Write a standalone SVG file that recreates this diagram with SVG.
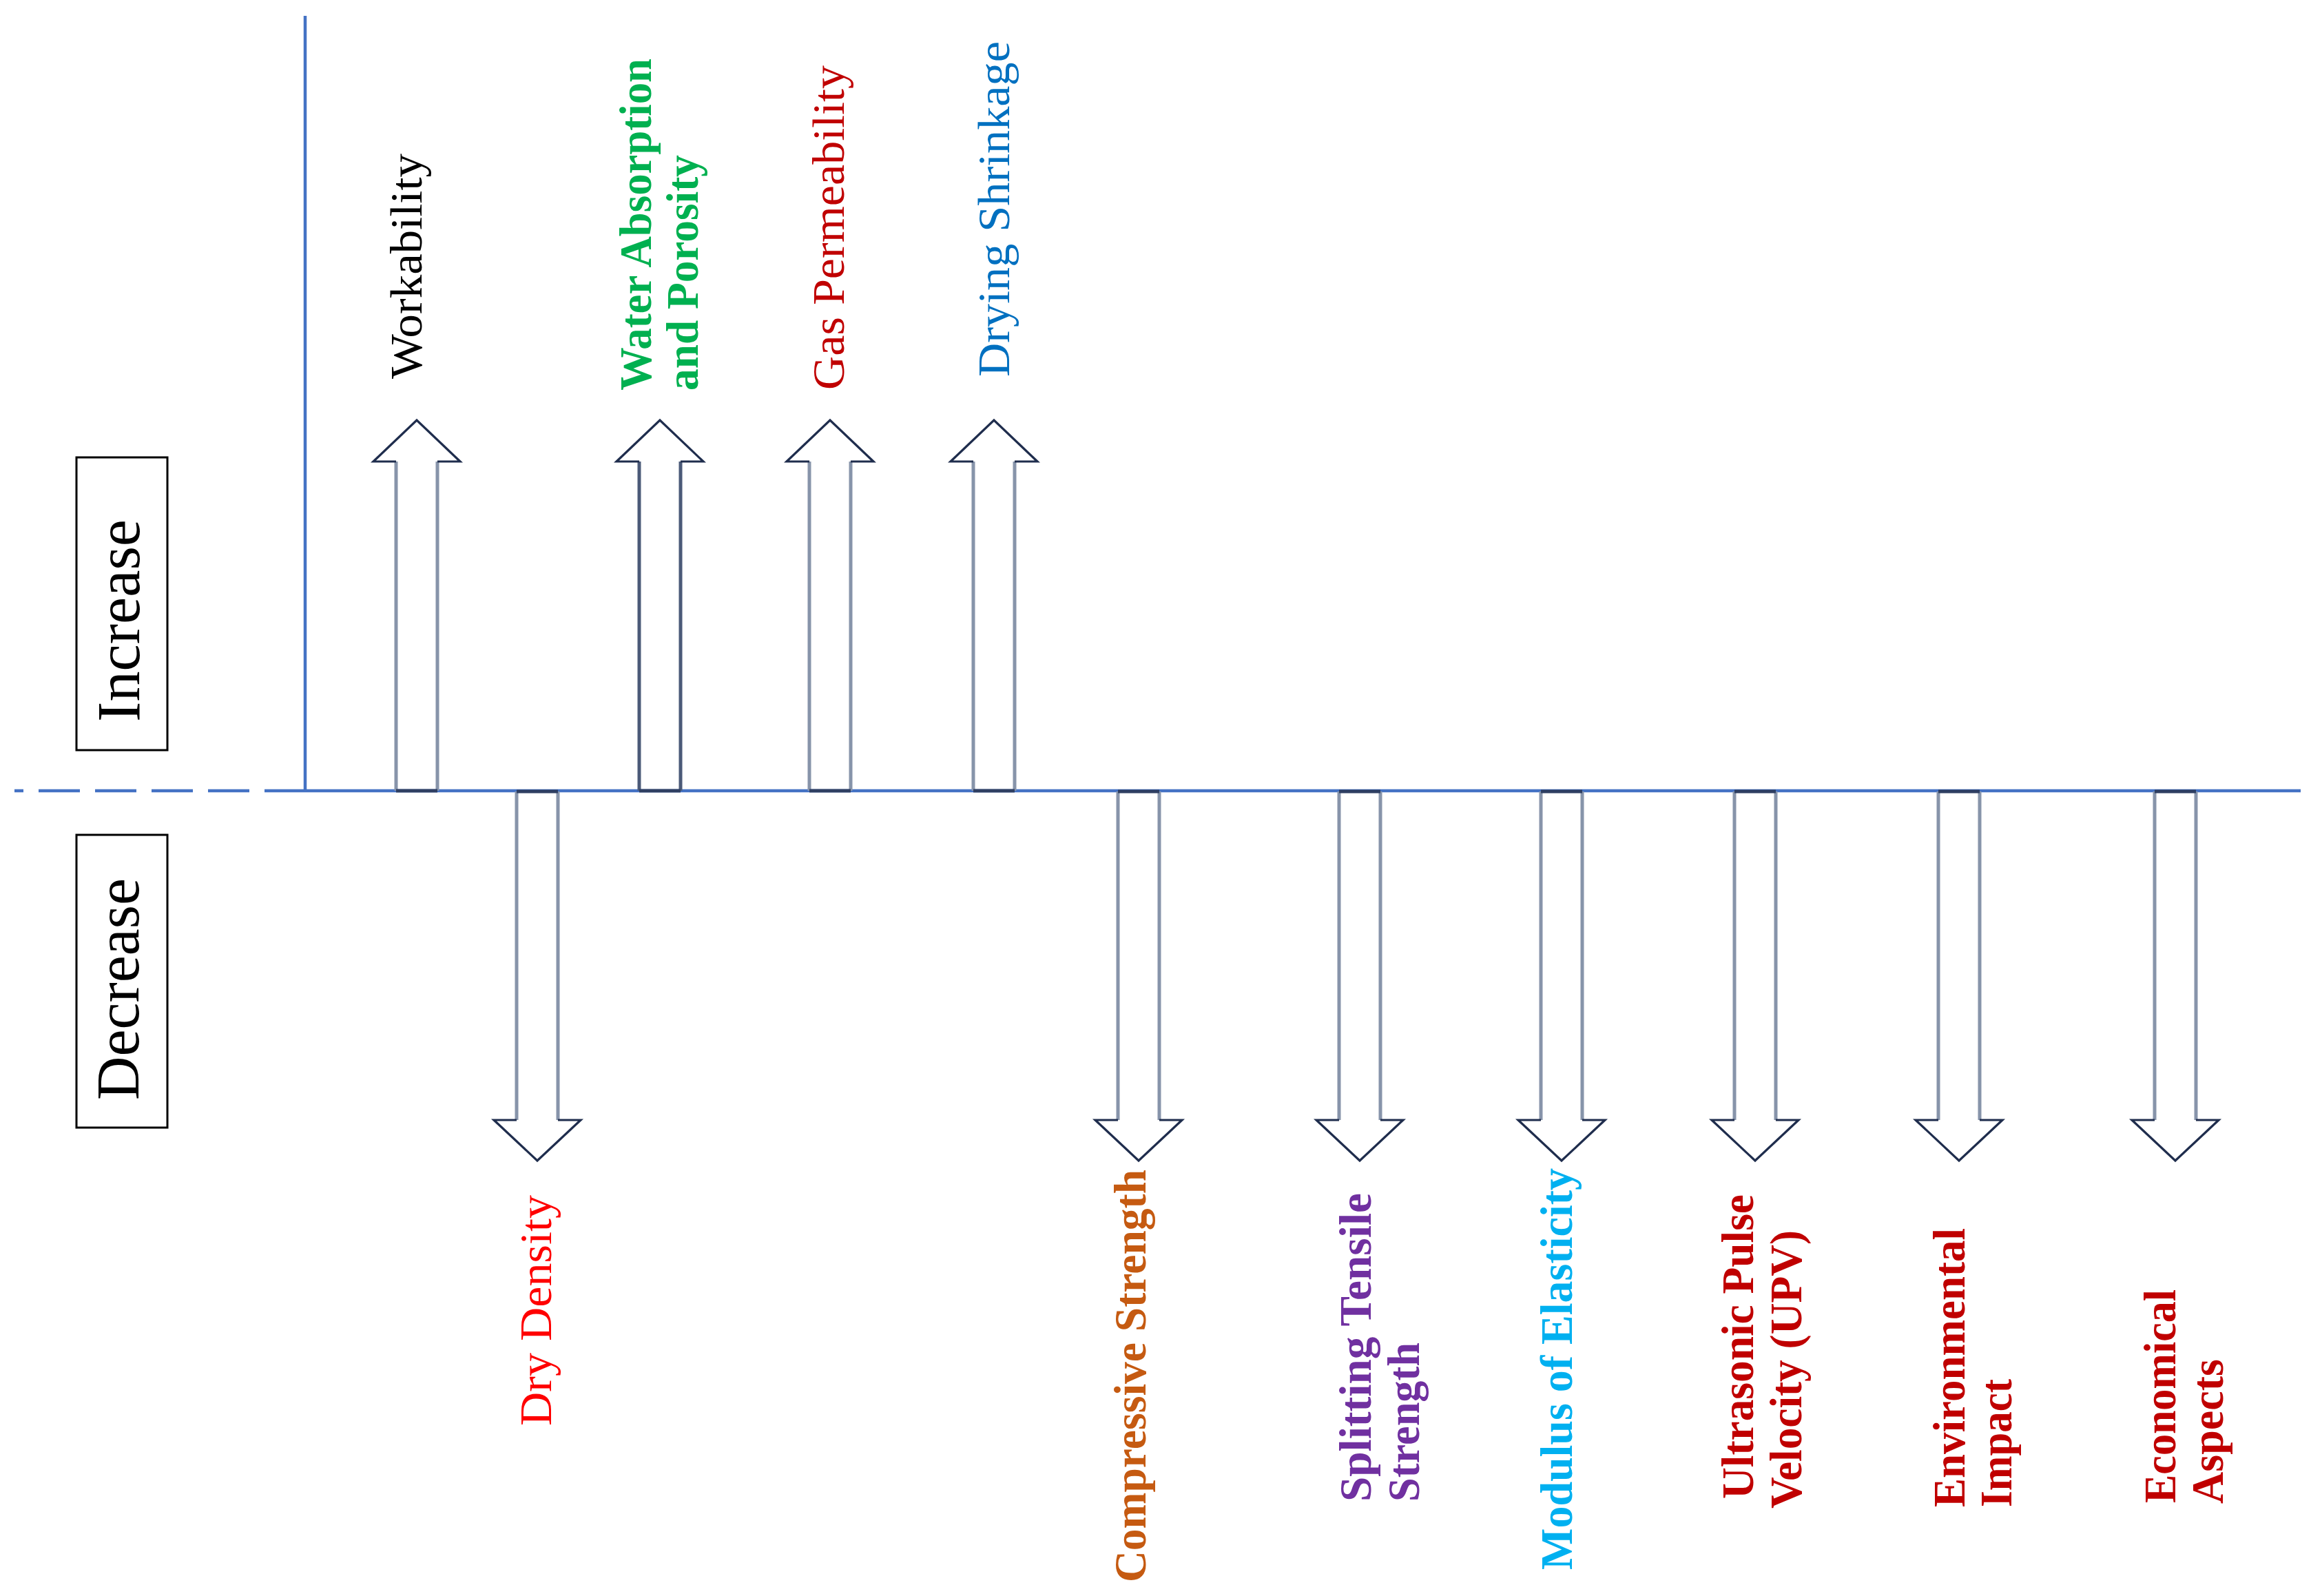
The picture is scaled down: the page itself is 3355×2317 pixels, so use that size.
<svg xmlns="http://www.w3.org/2000/svg" xmlns:xlink="http://www.w3.org/1999/xlink" width="3355" height="2317" viewBox="0 0 3355 2317">
<style>
.axis{stroke:#4472C4;stroke-width:4.5;fill:none}
.dash{stroke:#4472C4;stroke-width:4.5;fill:none;stroke-dasharray:60 22}
.shaft{stroke:#8794AA;stroke-width:5;fill:none}
.shaft-dark{stroke:#4B5A78;stroke-width:5;fill:none}
.head{stroke:#1F2D4D;stroke-width:3.2;fill:none;stroke-linejoin:miter}
.edge{stroke:#2F3F62;stroke-width:5;fill:none}
.box{fill:#fff;stroke:#000;stroke-width:3}
.lbl{font-family:"Liberation Serif","Times New Roman",serif;font-size:66px}
.big{font-family:"Liberation Serif","Times New Roman",serif;font-size:88px;fill:#000}
.b{font-weight:bold}
</style>
<defs>
<g id="up">
<path class="shaft" d="M-30 1148V670M30 1148V670"/>
<path class="head" d="M-30 670H-63L0 610L63 670H30"/>
<path class="edge" d="M-30 1148H30"/>
</g>
<g id="up-dark">
<path class="shaft-dark" d="M-30 1148V670M30 1148V670"/>
<path class="head" d="M-30 670H-63L0 610L63 670H30"/>
<path class="edge" d="M-30 1148H30"/>
</g>
<g id="down">
<path class="shaft" d="M-30 1149V1626M30 1149V1626"/>
<path class="head" d="M-30 1626H-63L0 1685L63 1626H30"/>
<path class="edge" d="M-30 1149H30"/>
</g>
</defs>
<rect width="3355" height="2317" fill="#fff"/>
<g id="connectors">
<path class="dash" d="M21 1148H443" stroke-dashoffset="47"/>
<path class="axis" d="M443 1148H3340"/>
<path class="axis" d="M443 23V1150"/>
</g>
<g id="increase-label">
<rect class="box" x="111" y="664" width="132" height="425"/>
<text class="big" transform="translate(202,1048) rotate(-90)" textLength="294" lengthAdjust="spacingAndGlyphs">Increase</text>
</g>
<g id="decrease-label">
<rect class="box" x="111" y="1212" width="132" height="425"/>
<text class="big" transform="translate(201,1597) rotate(-90)" textLength="322" lengthAdjust="spacingAndGlyphs">Decrease</text>
</g>
<g id="workability">
<use xlink:href="#up" x="605"/>
<text class="lbl" fill="#000000" transform="translate(612,550) rotate(-90)" textLength="327" lengthAdjust="spacingAndGlyphs">Workability</text>
</g>
<g id="water-absorption">
<use xlink:href="#up-dark" x="958"/>
<text class="lbl b" fill="#00B050" transform="translate(945,567) rotate(-90)" textLength="482" lengthAdjust="spacingAndGlyphs">Water Absorption</text>
<text class="lbl b" fill="#00B050" transform="translate(1013,567) rotate(-90)" textLength="342" lengthAdjust="spacingAndGlyphs">and Porosity</text>
</g>
<g id="gas-permeability">
<use xlink:href="#up" x="1205"/>
<text class="lbl" fill="#C00000" transform="translate(1225,566) rotate(-90)" textLength="471" lengthAdjust="spacingAndGlyphs">Gas Permeability</text>
</g>
<g id="drying-shrinkage">
<use xlink:href="#up" x="1443"/>
<text class="lbl" fill="#0070C0" transform="translate(1465,547) rotate(-90)" textLength="487" lengthAdjust="spacingAndGlyphs">Drying Shrinkage</text>
</g>
<g id="dry-density">
<use xlink:href="#down" x="780"/>
<text class="lbl" fill="#FF0000" transform="translate(800,2070) rotate(-90)" textLength="335" lengthAdjust="spacingAndGlyphs">Dry Density</text>
</g>
<g id="compressive-strength">
<use xlink:href="#down" x="1653"/>
<text class="lbl b" fill="#C55A11" transform="translate(1663,2297) rotate(-90)" textLength="599" lengthAdjust="spacingAndGlyphs">Compressive Strength</text>
</g>
<g id="splitting-tensile">
<use xlink:href="#down" x="1974"/>
<text class="lbl b" fill="#7030A0" transform="translate(1990,2180) rotate(-90)" textLength="448" lengthAdjust="spacingAndGlyphs">Splitting Tensile</text>
<text class="lbl b" fill="#7030A0" transform="translate(2060,2180) rotate(-90)" textLength="231" lengthAdjust="spacingAndGlyphs">Strength</text>
</g>
<g id="modulus-elasticity">
<use xlink:href="#down" x="2267"/>
<text class="lbl b" fill="#00B0F0" transform="translate(2282,2279) rotate(-90)" textLength="583" lengthAdjust="spacingAndGlyphs">Modulus of Elasticity</text>
</g>
<g id="upv">
<use xlink:href="#down" x="2548"/>
<text class="lbl b" fill="#C00000" transform="translate(2545,2176) rotate(-90)" textLength="442" lengthAdjust="spacingAndGlyphs">Ultrasonic Pulse</text>
<text class="lbl b" fill="#C00000" transform="translate(2615,2190) rotate(-90)" textLength="404" lengthAdjust="spacingAndGlyphs">Velocity (UPV)</text>
</g>
<g id="environmental-impact">
<use xlink:href="#down" x="2844"/>
<text class="lbl b" fill="#C00000" transform="translate(2852,2188) rotate(-90)" textLength="405" lengthAdjust="spacingAndGlyphs">Environmental</text>
<text class="lbl b" fill="#C00000" transform="translate(2920,2188) rotate(-90)" textLength="186" lengthAdjust="spacingAndGlyphs">Impact</text>
</g>
<g id="economical-aspects">
<use xlink:href="#down" x="3158"/>
<text class="lbl b" fill="#C00000" transform="translate(3158,2182) rotate(-90)" textLength="310" lengthAdjust="spacingAndGlyphs">Economical</text>
<text class="lbl b" fill="#C00000" transform="translate(3227,2183) rotate(-90)" textLength="210" lengthAdjust="spacingAndGlyphs">Aspects</text>
</g>
</svg>
